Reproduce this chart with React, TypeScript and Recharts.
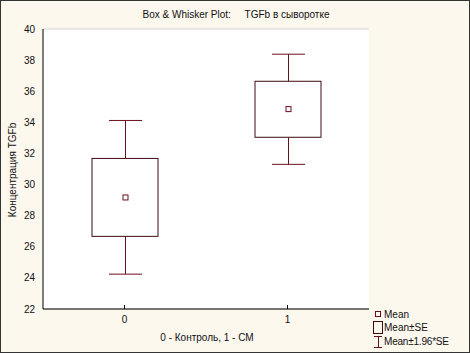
import { ComposedChart, Bar, XAxis, YAxis, CartesianGrid } from 'recharts'

const groups = ['0', '1']
const means = [29.17, 34.85]
const boxLo = [26.67, 33.04]
const boxHi = [31.68, 36.64]
const whiskerLo = [24.24, 31.3]
const whiskerHi = [34.12, 38.38]
const yTicks = [22, 24, 26, 28, 30, 32, 34, 36, 38, 40]

const data = groups.map((g, i) => ({
  group: g,
  mean: means[i],
  boxLo: boxLo[i],
  boxHi: boxHi[i],
  whiskerLo: whiskerLo[i],
  whiskerHi: whiskerHi[i],
  range: [whiskerLo[i], whiskerHi[i]],
}))

const WHISKER = '#6a0f1c'
const BOX = '#3e0a10'
const FONT = '"Liberation Sans", Arial, sans-serif'

function BoxWhisker(props: any) {
  const { x, y, width, height, payload } = props
  const lo = payload.whiskerLo
  const hi = payload.whiskerHi
  const py = (v: number) => y + ((hi - v) / (hi - lo)) * height
  const cx = Math.round(x + width / 2) + 0.5
  const cap = width / 4
  const top = py(payload.boxHi)
  const bot = py(payload.boxLo)
  const m = py(payload.mean)
  return (
    <g>
      <line x1={cx} x2={cx} y1={py(hi)} y2={top} stroke={WHISKER} />
      <line x1={cx} x2={cx} y1={bot} y2={py(lo)} stroke={WHISKER} />
      <line x1={cx - cap} x2={cx + cap} y1={py(hi)} y2={py(hi)} stroke={WHISKER} />
      <line x1={cx - cap} x2={cx + cap} y1={py(lo)} y2={py(lo)} stroke={WHISKER} />
      <rect x={x} y={top} width={width} height={bot - top} fill="#fff" stroke={BOX} />
      <rect x={cx - 2.5} y={m - 2.5} width={5} height={5} fill="#fff" stroke={WHISKER} />
    </g>
  )
}

const noLabel = () => <g />

export default function App() {
  return (
    <div
      style={{
        position: 'relative',
        width: 470,
        height: 353,
        background: '#fcf8ee',
        fontFamily: FONT,
        boxSizing: 'border-box',
        border: '1px solid #333',
      }}
    >
      <style>{'body{margin:0}'}</style>
      <div style={{ position: 'absolute', top: 8, left: 0, width: 470, textAlign: 'center', fontSize: 10, color: '#111', whiteSpace: 'pre' }}>
        {'Box & Whisker Plot:     TGFb в сыворотке'}
      </div>
      <div
        style={{
          position: 'absolute',
          left: 11,
          top: 169,
          transform: 'translate(-50%, -50%) rotate(-90deg)',
          fontSize: 10,
          color: '#111',
          whiteSpace: 'nowrap',
        }}
      >
        Концентрация TGFb
      </div>
      <div style={{ position: 'absolute', top: 331, left: 43, width: 326, textAlign: 'center', fontSize: 10, color: '#111' }}>
        0 - Контроль, 1 - СМ
      </div>
      <div style={{ position: 'absolute', left: 372, top: 307, fontSize: 10, color: '#111', lineHeight: '13px' }}>
        <div style={{ display: 'flex', alignItems: 'center', height: 12 }}>
          <span style={{ width: 10, display: 'inline-flex', justifyContent: 'center' }}>
            <span style={{ width: 4, height: 4, border: `1px solid ${WHISKER}` }} />
          </span>
          <span style={{ marginLeft: 1 }}>Mean</span>
        </div>
        <div style={{ display: 'flex', alignItems: 'center', height: 14 }}>
          <span style={{ width: 8, height: 11, border: `1px solid ${BOX}` }} />
          <span style={{ marginLeft: 1 }}>Mean±SE</span>
        </div>
        <div style={{ display: 'flex', alignItems: 'center', height: 15 }}>
          <svg width={10} height={13}>
            <line x1={1} x2={9} y1={1.5} y2={1.5} stroke={WHISKER} />
            <line x1={5.5} x2={5.5} y1={1.5} y2={12.5} stroke={WHISKER} />
            <line x1={1} x2={9} y1={12.5} y2={12.5} stroke={WHISKER} />
          </svg>
          <span style={{ marginLeft: 1, letterSpacing: -0.2 }}>Mean±1.96*SE</span>
        </div>
      </div>
      <div style={{ position: 'absolute', left: -1, top: -1 }}>
        <ComposedChart width={470} height={353} data={data} margin={{ top: 29, right: 101, bottom: 0, left: 0 }}>
          <CartesianGrid vertical={false} stroke="#d4d4d4" fill="#fff" />
          <XAxis
            xAxisId="bottom"
            dataKey="group"
            height={44}
            axisLine={{ stroke: '#000' }}
            tickLine={{ stroke: '#000' }}
            tickSize={-4}
            tickMargin={11}
            tick={{ fill: '#111', fontSize: 10, fontFamily: FONT }}
          />
          <XAxis
            xAxisId="top"
            dataKey="group"
            orientation="top"
            height={0}
            axisLine={{ stroke: '#000' }}
            tickLine={{ stroke: '#000' }}
            tickSize={-4}
            tick={noLabel}
          />
          <YAxis
            yAxisId="left"
            domain={[22, 40]}
            ticks={yTicks}
            width={43}
            axisLine={{ stroke: '#000' }}
            tickSize={0}
            tickMargin={8}
            tick={{ fill: '#111', fontSize: 10, fontFamily: FONT }}
          />
          <YAxis
            yAxisId="right"
            orientation="right"
            domain={[22, 40]}
            ticks={yTicks}
            width={0}
            axisLine={{ stroke: '#000' }}
            tickLine={{ stroke: '#000' }}
            tickSize={-4}
            tick={noLabel}
          />
          <Bar
            xAxisId="bottom"
            yAxisId="left"
            dataKey="range"
            barSize={66}
            shape={BoxWhisker}
            isAnimationActive={false}
          />
        </ComposedChart>
      </div>
    </div>
  )
}
